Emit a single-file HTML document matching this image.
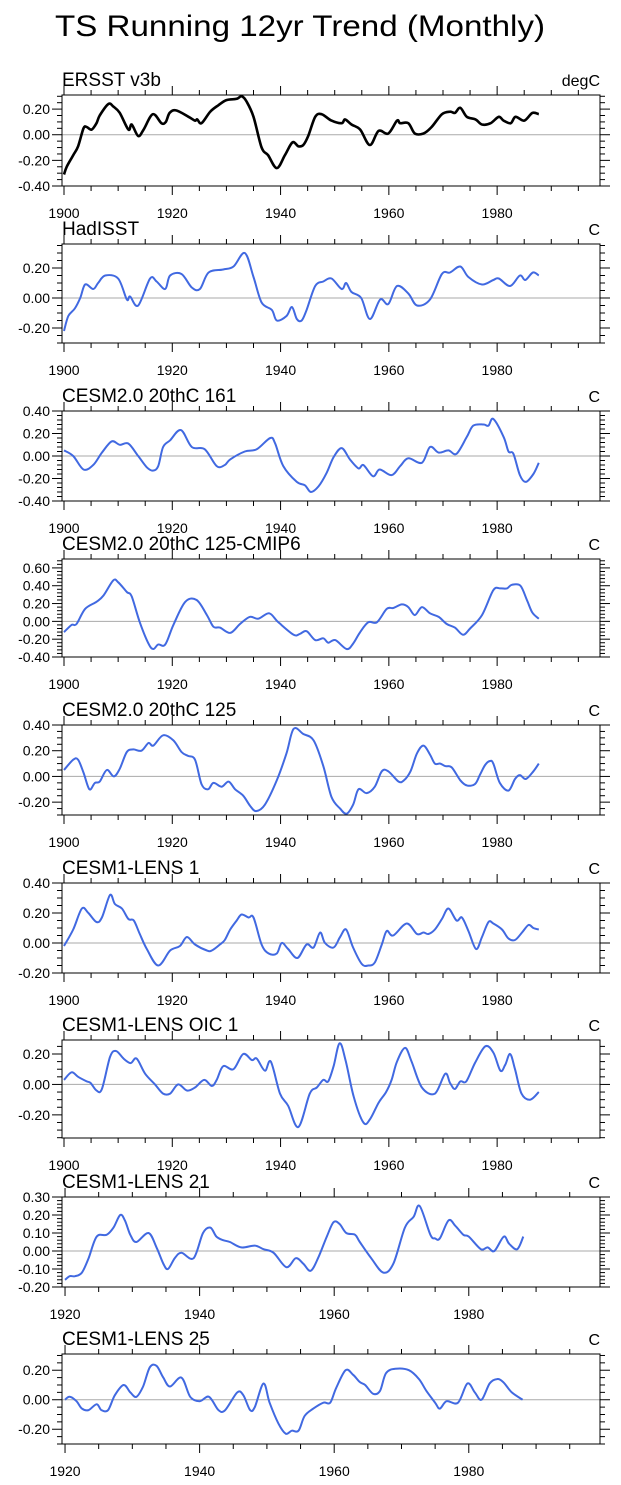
<!DOCTYPE html>
<html><head><meta charset="utf-8">
<style>
html,body{margin:0;padding:0;background:#fff;}
svg{display:block;font-family:"Liberation Sans",Arial,sans-serif;}
</style></head>
<body>
<svg id="chart" width="621" height="1485" viewBox="0 0 621 1485" xmlns="http://www.w3.org/2000/svg">
<text x="55" y="36" font-size="30" textLength="490" lengthAdjust="spacingAndGlyphs">TS Running 12yr Trend (Monthly)</text>
</svg>
<script>
// ---- data (years, values) per panel ----
const ersstYears=[1900,1900.5,1901.7,1902.6,1903.6,1904.2,1905.1,1906,1906.6,1908.2,1909.1,1910.3,1911.9,1912.5,1913.7,1914.7,1916.4,1918,1918.8,1919.5,1920.7,1923,1924.2,1924.6,1925.4,1927,1928.5,1930,1931.9,1932.8,1933.7,1935,1936.5,1937.7,1939.3,1940.8,1942.2,1943.3,1944.2,1945.1,1946.4,1947.6,1949.4,1951.3,1951.9,1953.1,1954.7,1956.5,1958.1,1959.9,1961.5,1962.1,1963.6,1964.8,1966.4,1967.9,1969.8,1971.3,1972.2,1973.2,1974.4,1976,1977.2,1978.8,1980.3,1981.2,1982.5,1983.4,1985,1986.5,1987.7];
const ersstValues=[-0.31,-0.25,-0.16,-0.09,0.05,0.06,0.04,0.09,0.15,0.24,0.22,0.17,0.04,0.08,-0.01,0.04,0.16,0.09,0.10,0.17,0.19,0.14,0.11,0.12,0.09,0.18,0.23,0.27,0.28,0.30,0.26,0.14,-0.10,-0.16,-0.26,-0.16,-0.06,-0.09,-0.08,-0.01,0.14,0.16,0.11,0.09,0.12,0.08,0.04,-0.08,0.03,0.01,0.11,0.09,0.09,0.01,0.01,0.06,0.16,0.18,0.17,0.21,0.14,0.12,0.08,0.09,0.14,0.11,0.09,0.14,0.11,0.17,0.16];
const hadYears=[1900,1900.8,1902,1903,1903.9,1905.4,1906.3,1907.6,1910,1911.6,1912.2,1913.7,1915.9,1917.1,1918.7,1919.6,1921.7,1923.6,1925.1,1926.7,1929.4,1931.3,1933.4,1935,1936.5,1938.4,1939.3,1941.1,1942.1,1943,1943.9,1944.8,1946.4,1947.9,1949.4,1951.3,1952.1,1953.1,1954.9,1956.5,1958.4,1959.9,1961.5,1963.6,1965.2,1967.6,1969.8,1971.3,1973.2,1974.7,1977.2,1979.3,1980.3,1982.4,1984.2,1985.2,1986.6,1987.7];
const hadValues=[-0.22,-0.12,-0.07,0.0,0.09,0.06,0.10,0.15,0.13,-0.01,0.01,-0.05,0.13,0.11,0.06,0.15,0.16,0.07,0.06,0.17,0.19,0.21,0.30,0.14,-0.03,-0.08,-0.15,-0.12,-0.06,-0.14,-0.15,-0.08,0.08,0.11,0.13,0.06,0.10,0.04,0.0,-0.14,-0.01,-0.04,0.08,0.03,-0.05,-0.01,0.16,0.17,0.21,0.14,0.09,0.12,0.13,0.08,0.15,0.12,0.17,0.15];
const c161Years=[1900,1901.7,1903.6,1905.4,1907,1908.8,1910.3,1911.9,1913.7,1915.3,1916.4,1917.4,1918.3,1919.6,1921.6,1923.6,1926,1928.2,1929.7,1930.7,1933.4,1935.6,1938.1,1939,1940.5,1943,1944.5,1945.6,1947,1948.5,1949.8,1951.3,1952.8,1954.4,1955.3,1957.1,1958.3,1960.5,1962.1,1963.6,1966.1,1967.6,1969.2,1971,1972.5,1974.4,1975.6,1977.5,1978.4,1979.3,1981.2,1982.1,1983,1984.2,1985.3,1986.7,1987.7];
const c161Values=[0.05,0.0,-0.12,-0.08,0.03,0.13,0.10,0.11,0.0,-0.10,-0.13,-0.09,0.08,0.14,0.23,0.08,0.06,-0.09,-0.08,-0.03,0.04,0.06,0.16,0.11,-0.09,-0.23,-0.26,-0.32,-0.27,-0.15,-0.01,0.07,-0.03,-0.11,-0.08,-0.18,-0.12,-0.17,-0.09,-0.02,-0.06,0.08,0.03,0.05,0.02,0.17,0.27,0.28,0.27,0.33,0.17,0.04,0.02,-0.17,-0.23,-0.16,-0.06];
const cmip6Years=[1900,1901.4,1902.3,1903.9,1906,1907.3,1909.1,1910,1911.6,1912.5,1914,1915.6,1916.5,1917.4,1918.7,1920.2,1922.4,1924.5,1926.4,1927.6,1928.8,1930.7,1932.5,1934.3,1935.9,1937.9,1939.6,1942.4,1943.6,1944.8,1946.4,1947.9,1948.8,1950.1,1952.2,1953.4,1954.7,1956.2,1957.8,1959.6,1960.8,1962.4,1963.6,1964.8,1966.1,1967.6,1969.2,1970.7,1972.2,1973.7,1975,1977.2,1979.3,1980.6,1981.8,1982.7,1984.3,1985.5,1986.5,1987.7];
const cmip6Values=[-0.12,-0.04,-0.03,0.14,0.22,0.29,0.46,0.44,0.33,0.28,-0.01,-0.25,-0.31,-0.26,-0.26,-0.04,0.22,0.24,0.07,-0.06,-0.07,-0.13,-0.03,0.05,0.03,0.09,-0.01,-0.15,-0.14,-0.11,-0.21,-0.19,-0.24,-0.21,-0.31,-0.25,-0.12,-0.01,-0.01,0.14,0.15,0.19,0.16,0.07,0.16,0.09,0.05,-0.03,-0.07,-0.15,-0.08,0.07,0.35,0.37,0.37,0.41,0.40,0.24,0.10,0.03];
const c125Years=[1900,1901.7,1902.6,1903.6,1904.7,1905.7,1906.6,1907.9,1909.2,1910.3,1911.6,1912.8,1914.3,1915.6,1916.5,1918.3,1920.2,1921.7,1922.9,1924.2,1925.4,1926.6,1927.6,1929.1,1930.4,1931.6,1933.1,1934.4,1935.5,1937.1,1939.3,1941.1,1942.4,1944.2,1946.1,1947.9,1949.4,1951,1952.2,1953.4,1954.4,1955.9,1957.4,1958.7,1959.9,1961.8,1962.8,1964,1965.2,1966.4,1967.6,1968.5,1969.5,1970.4,1971.6,1973.2,1974.4,1975.9,1976.8,1977.8,1978.7,1979.3,1980.5,1982.1,1983.3,1984.2,1985.3,1986.7,1987.7];
const c125Values=[0.05,0.13,0.13,0.03,-0.10,-0.05,-0.04,0.05,0.0,0.06,0.19,0.21,0.20,0.26,0.24,0.32,0.28,0.19,0.16,0.13,-0.06,-0.10,-0.05,-0.08,-0.04,-0.10,-0.15,-0.23,-0.27,-0.22,-0.03,0.18,0.37,0.33,0.28,0.08,-0.16,-0.25,-0.29,-0.22,-0.10,-0.13,-0.08,0.04,0.04,-0.04,-0.03,0.04,0.18,0.24,0.17,0.10,0.10,0.08,0.07,-0.03,-0.07,-0.06,0.01,0.09,0.12,0.10,-0.05,-0.11,-0.02,0.01,-0.02,0.04,0.10];
const lens1Years=[1900,1901.7,1903.3,1904.5,1906,1907,1908.5,1909.4,1910.7,1911.9,1912.9,1914,1915.3,1917.4,1919.6,1921.4,1922.7,1924.2,1926.4,1927.3,1928.8,1929.7,1930.7,1931.9,1932.8,1934.1,1935,1936.5,1937.8,1939.3,1940.2,1941.4,1943.1,1944.8,1946.1,1947.3,1948.2,1949.8,1951,1952.1,1953.4,1955,1956.2,1957.4,1958.7,1959.6,1960.8,1963.3,1965.2,1966.4,1967.3,1968.5,1969.8,1971,1972.5,1973.5,1974.7,1976.1,1977.2,1978.4,1979.3,1980.9,1982.1,1983.3,1984.6,1985.8,1986.7,1987.7];
const lens1Values=[-0.02,0.09,0.23,0.20,0.14,0.17,0.32,0.26,0.23,0.16,0.15,0.06,-0.04,-0.15,-0.05,-0.02,0.04,-0.01,-0.05,-0.05,-0.01,0.02,0.09,0.15,0.19,0.17,0.17,-0.01,-0.07,-0.07,0.0,-0.04,-0.10,-0.01,-0.03,0.07,0.0,-0.03,0.04,0.09,-0.03,-0.14,-0.15,-0.13,-0.01,0.08,0.05,0.13,0.06,0.07,0.06,0.09,0.16,0.23,0.15,0.17,0.08,-0.04,0.04,0.14,0.13,0.09,0.03,0.02,0.07,0.12,0.10,0.09];
const oicYears=[1900,1901.4,1902.6,1904.2,1904.9,1906,1907,1908.5,1909.6,1911,1912.3,1913.4,1915,1916.8,1918.3,1919.6,1921.1,1922.7,1924.2,1925.9,1927.3,1928.2,1929.4,1931.3,1933.1,1934.7,1935.6,1937.1,1938.2,1939.9,1941.4,1943.3,1945.4,1946.7,1947.9,1948.8,1949.8,1950.9,1952,1953.5,1955.3,1956.5,1958.1,1959.5,1960.5,1961.5,1963,1964.2,1966.1,1968.5,1970.4,1971.3,1972.2,1973.2,1974.3,1975.9,1977.8,1979.3,1980.6,1981.5,1982.4,1983.3,1984.5,1986.1,1987.7];
const oicValues=[0.03,0.08,0.05,0.02,0.01,-0.04,-0.03,0.18,0.22,0.17,0.14,0.17,0.07,0.0,-0.06,-0.06,0.0,-0.04,-0.02,0.03,-0.01,0.03,0.12,0.10,0.20,0.16,0.17,0.09,0.15,-0.06,-0.14,-0.28,-0.06,-0.02,0.03,0.02,0.12,0.27,0.16,-0.08,-0.25,-0.23,-0.12,-0.05,0.03,0.15,0.24,0.15,-0.02,-0.06,0.07,0.01,-0.03,0.02,0.02,0.14,0.25,0.21,0.09,0.13,0.20,0.10,-0.06,-0.10,-0.05];
const lens21Years=[1920,1920.7,1921.5,1922.5,1923.5,1924.7,1926.2,1927.2,1928.2,1928.9,1929.7,1930.6,1932.4,1933.6,1934.6,1935.3,1936.3,1937.3,1939.1,1940.5,1941.6,1942.5,1943.5,1944.5,1946.2,1948.2,1949.5,1951,1952.9,1954.3,1955.4,1956.5,1957.6,1958.9,1959.9,1960.8,1961.8,1963.1,1963.8,1965.5,1967.3,1968.8,1970.5,1971.8,1972.7,1974.3,1975,1975.7,1977,1978,1979.2,1980,1981.8,1982.8,1983.8,1985.2,1986,1987.2,1988.1];
const lens21Values=[-0.16,-0.14,-0.14,-0.12,-0.04,0.08,0.09,0.13,0.20,0.17,0.09,0.05,0.10,0.02,-0.07,-0.10,-0.04,-0.01,-0.04,0.10,0.13,0.08,0.06,0.05,0.02,0.03,0.01,-0.01,-0.09,-0.04,-0.07,-0.11,-0.04,0.08,0.16,0.15,0.10,0.09,0.05,-0.04,-0.12,-0.07,0.13,0.19,0.25,0.09,0.07,0.07,0.17,0.14,0.09,0.08,0.01,0.02,0.0,0.08,0.04,0.01,0.08];
const lens25Years=[1920,1920.7,1921.7,1922.5,1923.5,1924.7,1925.4,1926.4,1927.4,1928.7,1929.7,1930.6,1931.6,1932.6,1933.6,1934.6,1935.6,1937.3,1938.6,1940,1941.4,1942.8,1943.8,1945.6,1946.5,1947.5,1948.2,1949.5,1950.4,1951.7,1952.8,1953.7,1954.7,1955.6,1956.9,1958.4,1959.4,1960.3,1961.7,1962.8,1963.8,1964.6,1965.8,1966.8,1967.7,1969.1,1971.1,1972.6,1973.7,1975,1975.7,1976.7,1978.4,1979.8,1980.9,1981.9,1983.1,1984.2,1985.1,1986.4,1988];
const lens25Values=[0.0,0.02,-0.01,-0.06,-0.07,-0.03,-0.07,-0.07,0.03,0.10,0.05,0.02,0.09,0.22,0.23,0.15,0.09,0.15,0.02,-0.01,0.02,-0.07,-0.07,0.05,0.03,-0.07,-0.05,0.11,-0.02,-0.16,-0.23,-0.21,-0.21,-0.11,-0.06,-0.02,-0.02,0.08,0.20,0.17,0.12,0.10,0.04,0.06,0.18,0.21,0.20,0.14,0.06,-0.02,-0.06,-0.01,-0.02,0.11,0.05,0.0,0.11,0.14,0.12,0.05,0.0];

const xTicksA=[1900,1920,1940,1960,1980];
const xTicksB=[1920,1940,1960,1980];

const panels=[
 {name:'ersst-v3b',title:'ERSST v3b',unit:'degC',top:95,bot:186,ymin:-0.4,ymax:0.31,yt:[-0.4,-0.2,0,0.2],ym:0.05,xa:'A',xs:ersstYears,ys:ersstValues,color:'#000',lw:2.6},
 {name:'hadisst',title:'HadISST',unit:'C',top:244,bot:343,ymin:-0.30,ymax:0.36,yt:[-0.2,0,0.2],ym:0.05,xa:'A',xs:hadYears,ys:hadValues,color:'#4169e1',lw:2},
 {name:'cesm2-161',title:'CESM2.0 20thC 161',unit:'C',top:411,bot:501,ymin:-0.4,ymax:0.4,yt:[-0.4,-0.2,0,0.2,0.4],ym:0.04,xa:'A',xs:c161Years,ys:c161Values,color:'#4169e1',lw:2},
 {name:'cesm2-125-cmip6',title:'CESM2.0 20thC 125-CMIP6',unit:'C',top:559,bot:657,ymin:-0.4,ymax:0.7,yt:[-0.4,-0.2,0,0.2,0.4,0.6],ym:0.04,xa:'A',xs:cmip6Years,ys:cmip6Values,color:'#4169e1',lw:2},
 {name:'cesm2-125',title:'CESM2.0 20thC 125',unit:'C',top:725,bot:815,ymin:-0.3,ymax:0.4,yt:[-0.2,0,0.2,0.4],ym:0.05,xa:'A',xs:c125Years,ys:c125Values,color:'#4169e1',lw:2},
 {name:'cesm1-lens-1',title:'CESM1-LENS 1',unit:'C',top:883,bot:973,ymin:-0.2,ymax:0.4,yt:[-0.2,0,0.2,0.4],ym:0.05,xa:'A',xs:lens1Years,ys:lens1Values,color:'#4169e1',lw:2},
 {name:'cesm1-lens-oic-1',title:'CESM1-LENS OIC 1',unit:'C',top:1040,bot:1138,ymin:-0.352,ymax:0.292,yt:[-0.2,0,0.2],ym:0.05,xa:'A',xs:oicYears,ys:oicValues,color:'#4169e1',lw:2},
 {name:'cesm1-lens-21',title:'CESM1-LENS 21',unit:'C',top:1197,bot:1287,ymin:-0.2,ymax:0.3,yt:[-0.2,-0.1,0,0.1,0.2,0.3],ym:0.02,xa:'B',xs:lens21Years,ys:lens21Values,color:'#4169e1',lw:2},
 {name:'cesm1-lens-25',title:'CESM1-LENS 25',unit:'C',top:1354,bot:1444,ymin:-0.30,ymax:0.31,yt:[-0.2,0,0.2],ym:0.05,xa:'B',xs:lens25Years,ys:lens25Values,color:'#4169e1',lw:2}
];

const NS='http://www.w3.org/2000/svg';
const svg=document.getElementById('chart');
const L=62,R=600;
function mk(tag,attrs,parent){const e=document.createElementNS(NS,tag);for(const k in attrs)e.setAttribute(k,attrs[k]);parent.appendChild(e);return e;}
function fmt(v){return (v<0?'-':'')+Math.abs(v).toFixed(2);}

panels.forEach(p=>{
  const g=mk('g',{},svg);
  
  
  const x0=p.xa==='A'?1899.63:1919.55, x1=p.xa==='A'?1999.0:1999.5;
  const xs=v=>L+(v-x0)/(x1-x0)*(R-L);
  const ys=v=>p.bot-(v-p.ymin)/(p.ymax-p.ymin)*(p.bot-p.top);
  const t=mk('text',{x:L,y:p.top-9,'font-size':19},g);t.textContent=p.title;
  
  
  const u=mk('text',{x:R,y:p.top-9,'font-size':16,'text-anchor':'end'},g);u.textContent=p.unit;
  
  
  const z=mk('line',{x1:L,x2:R,y1:ys(0),y2:ys(0),stroke:'#aaa','stroke-width':1},g);
  
  
  const pts=p.xs.map((yr,i)=>[xs(yr),ys(p.ys[i])]);
  let d='M'+pts[0][0].toFixed(1)+','+pts[0][1].toFixed(1);
  for(let i=0;i<pts.length-1;i++){
    const a=pts[Math.max(0,i-1)],b=pts[i],c=pts[i+1],e=pts[Math.min(pts.length-1,i+2)];
    const c1=[b[0]+(c[0]-a[0])/6,b[1]+(c[1]-a[1])/6],c2=[c[0]-(e[0]-b[0])/6,c[1]-(e[1]-b[1])/6];
    d+=' C'+c1[0].toFixed(1)+','+c1[1].toFixed(1)+' '+c2[0].toFixed(1)+','+c2[1].toFixed(1)+' '+c[0].toFixed(1)+','+c[1].toFixed(1);
  }
  const path=mk('path',{d:d,fill:'none',stroke:p.color,'stroke-width':p.lw,'stroke-linejoin':'round'},g);
  
  
  const fr=mk('rect',{x:L,y:p.top,width:R-L,height:p.bot-p.top,fill:'none',stroke:'#000','stroke-width':1},g);
  
  
  const xt=p.xa==='A'?xTicksA:xTicksB;
  for(let yr=Math.ceil(x0/5)*5;yr<=x1;yr+=5){
    const major=yr%20===0, len=major?9:5, x=xs(yr);
    mk('line',{x1:x,x2:x,y1:p.bot,y2:p.bot+len,stroke:'#000','stroke-width':1},g);
    mk('line',{x1:x,x2:x,y1:p.top,y2:p.top-len,stroke:'#000','stroke-width':1},g);
  }
  xt.forEach(yr=>{
    const tl=mk('text',{x:xs(yr),y:p.bot+32,'font-size':14,'text-anchor':'middle'},g);tl.textContent=yr;
    
    
  });
  const n0=Math.ceil(p.ymin/p.ym-1e-6), n1=Math.floor(p.ymax/p.ym+1e-6);
  for(let n=n0;n<=n1;n++){
    const v=n*p.ym, y=ys(v);
    const major=p.yt.some(t=>Math.abs(t-v)<1e-6), len=major?10:5;
    mk('line',{x1:L,x2:L-len,y1:y,y2:y,stroke:'#000','stroke-width':1},g);
    mk('line',{x1:R,x2:R+len,y1:y,y2:y,stroke:'#000','stroke-width':1},g);
  }
  p.yt.forEach(v=>{
    const tl=mk('text',{x:50,y:ys(v)+5,'font-size':14,'text-anchor':'end'},g);tl.textContent=fmt(v);
    
    
  });
});
</script>
</body></html>
